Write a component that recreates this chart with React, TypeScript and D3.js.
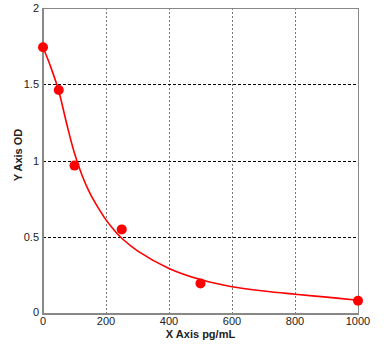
import React, { useEffect, useRef } from 'react';
import * as d3 from 'd3';

// measured standards
const concX = [0, 50, 100, 250, 500, 1000];
const odY = [1.743, 1.464, 0.97, 0.553, 0.2, 0.087];

// fitted curve
const curveX = [0, 25, 50, 75, 100, 125, 150, 175, 200, 225, 250, 300, 400, 500, 600, 700, 800, 900, 1000];
const curveY = [1.743, 1.612, 1.458, 1.245, 1.05, 0.9, 0.785, 0.695, 0.615, 0.55, 0.495, 0.413, 0.298, 0.225, 0.178, 0.15, 0.129, 0.11, 0.09];

const xTicks = [0, 200, 400, 600, 800, 1000];
const yTicks = [0, 0.5, 1, 1.5, 2];

const W = 386;
const H = 354;

export default function App() {
  const ref = useRef<SVGSVGElement | null>(null);

  useEffect(() => {
    const margin = { top: 8, right: 28, bottom: 40, left: 43 };
    const width = W - margin.left - margin.right;
    const height = H - margin.top - margin.bottom;

    const svg = d3.select(ref.current);
    svg.selectAll('*').remove();

    const x = d3.scaleLinear().domain([0, 1000]).range([0, width]);
    const y = d3.scaleLinear().domain([0, 2]).range([height, 0]);

    const chart = svg.append('g')
      .attr('transform', `translate(${margin.left},${margin.top})`);

    // grid
    chart.selectAll('.vgrid')
      .data(xTicks.filter((d) => d > 0 && d < 1000))
      .enter().append('line')
      .attr('x1', (d) => x(d)).attr('x2', (d) => x(d))
      .attr('y1', 0).attr('y2', height)
      .attr('stroke', '#777')
      .attr('stroke-dasharray', '2,2')
      .attr('shape-rendering', 'crispEdges');

    chart.selectAll('.hgrid')
      .data(yTicks.filter((d) => d > 0 && d < 2))
      .enter().append('line')
      .attr('x1', 0).attr('x2', width)
      .attr('y1', (d) => y(d)).attr('y2', (d) => y(d))
      .attr('stroke', '#000')
      .attr('stroke-dasharray', '3,2')
      .attr('shape-rendering', 'crispEdges');

    // frame
    chart.append('rect')
      .attr('x', 0).attr('y', 0)
      .attr('width', width).attr('height', height)
      .attr('fill', 'none')
      .attr('stroke', '#888')
      .attr('shape-rendering', 'crispEdges');
    chart.append('line')
      .attr('x1', 0).attr('x2', 0).attr('y1', 0).attr('y2', height + 1)
      .attr('stroke', '#888').attr('stroke-width', 2);
    chart.append('line')
      .attr('x1', -1).attr('x2', width).attr('y1', height).attr('y2', height)
      .attr('stroke', '#888').attr('stroke-width', 2);

    const font = 'Arial, "Liberation Sans", sans-serif';

    // y tick labels
    chart.selectAll('.ylab')
      .data(yTicks)
      .enter().append('text')
      .attr('x', -4)
      .attr('y', (d) => y(d))
      .attr('dy', (d) => (d === 0 ? '0.2em' : '0.35em'))
      .attr('text-anchor', 'end')
      .style('font-family', font)
      .style('font-size', '11px')
      .style('fill', '#222')
      .text((d) => d3.format('')(d));

    // x tick labels
    chart.selectAll('.xlab')
      .data(xTicks)
      .enter().append('text')
      .attr('x', (d) => x(d))
      .attr('y', height + 11)
      .attr('text-anchor', (d) => (d === 0 ? 'start' : 'middle'))
      .attr('dx', (d) => (d === 0 ? -3 : 0))
      .style('font-family', font)
      .style('font-size', '11px')
      .style('fill', '#222')
      .text((d) => d);

    // axis titles
    chart.append('text')
      .attr('x', width / 2)
      .attr('y', height + 24)
      .attr('text-anchor', 'middle')
      .style('font-family', font)
      .style('font-size', '11px')
      .style('font-weight', 'bold')
      .style('fill', '#222')
      .text('X Axis pg/mL');

    chart.append('text')
      .attr('transform', `translate(${-21},${height / 2 - 6}) rotate(-90)`)
      .attr('text-anchor', 'middle')
      .style('font-family', font)
      .style('font-size', '11px')
      .style('font-weight', 'bold')
      .style('fill', '#222')
      .text('Y Axis OD');

    // fitted curve
    const line = d3.line<number>()
      .curve(d3.curveCatmullRom.alpha(0.5))
      .x((d, i) => x(curveX[i]))
      .y((d) => y(d));

    chart.append('path')
      .datum(curveY)
      .attr('fill', 'none')
      .attr('stroke', '#ff0000')
      .attr('stroke-width', 1.6)
      .attr('d', line);

    // points
    chart.selectAll('.pt')
      .data(odY)
      .enter().append('circle')
      .attr('cx', (d, i) => x(concX[i]))
      .attr('cy', (d) => y(d))
      .attr('r', 5)
      .attr('fill', '#ff0000');
  }, []);

  return (
    <svg
      ref={ref}
      width={W}
      height={H}
      style={{ position: 'absolute', left: 0, top: 0, background: '#fff' }}
    />
  );
}
